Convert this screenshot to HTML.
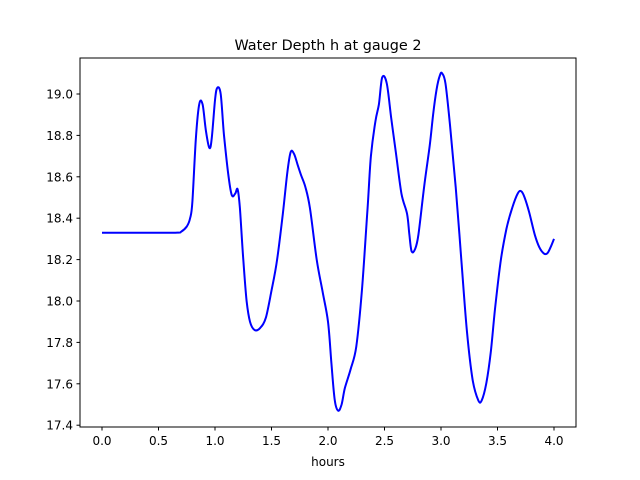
<!DOCTYPE html>
<html><head><meta charset="utf-8"><style>
body{margin:0;background:#fff;}
svg{display:block;font-family:"DejaVu Sans","Liberation Sans",sans-serif;}
</style></head><body>
<svg id="chart" width="640" height="480">
<rect x="0" y="0" width="640" height="480" fill="#fff"/>
<text x="328" y="50" text-anchor="middle" font-size="14.4">Water Depth h at gauge 2</text>
<g id="xt"></g>
<g id="yt"></g>
<path id="line" fill="none" stroke="#0000ff" stroke-width="2" stroke-linejoin="round"/>
<rect x="80" y="58" width="496" height="369" fill="none" stroke="#000" stroke-width="1"/>
<text x="328" y="466" text-anchor="middle" font-size="12">hours</text>
</svg>
<script>
const hours=[0,0.3,0.65,0.7,0.75,0.78,0.8,0.83,0.86,0.89,0.92,0.95,0.97,1.0,1.02,1.05,1.08,1.12,1.15,1.18,1.2,1.22,1.25,1.28,1.31,1.35,1.4,1.45,1.5,1.55,1.6,1.64,1.67,1.7,1.73,1.76,1.8,1.84,1.9,1.95,2.0,2.03,2.06,2.09,2.12,2.15,2.2,2.25,2.3,2.35,2.38,2.42,2.45,2.48,2.52,2.56,2.6,2.65,2.7,2.72,2.74,2.77,2.8,2.85,2.9,2.93,2.96,2.99,3.01,3.04,3.08,3.13,3.18,3.23,3.28,3.33,3.36,3.4,3.44,3.48,3.53,3.58,3.63,3.68,3.71,3.74,3.78,3.83,3.87,3.91,3.94,3.97,4.0];
const depth=[18.33,18.33,18.33,18.335,18.36,18.40,18.48,18.78,18.95,18.95,18.82,18.74,18.78,18.97,19.03,19.0,18.8,18.6,18.51,18.52,18.54,18.45,18.2,18.0,17.9,17.86,17.87,17.92,18.05,18.2,18.42,18.62,18.72,18.71,18.66,18.61,18.55,18.45,18.2,18.05,17.9,17.7,17.52,17.47,17.5,17.58,17.67,17.78,18.05,18.45,18.7,18.87,18.95,19.08,19.05,18.88,18.72,18.52,18.42,18.32,18.24,18.25,18.32,18.55,18.75,18.9,19.02,19.09,19.10,19.05,18.85,18.55,18.2,17.85,17.62,17.52,17.52,17.6,17.75,17.97,18.2,18.35,18.45,18.52,18.53,18.5,18.43,18.32,18.26,18.23,18.23,18.26,18.30];
const xTicks=[0,0.5,1,1.5,2,2.5,3,3.5,4];
const yTicks=[17.4,17.6,17.8,18.0,18.2,18.4,18.6,18.8,19.0];
const X=v=>102+v*113;
const Y=v=>94+(19-v)*207;
const NS="http://www.w3.org/2000/svg";
const xt=document.getElementById('xt'),yt=document.getElementById('yt');
xTicks.forEach(t=>{
  const l=document.createElementNS(NS,'line');
  l.setAttribute('x1',X(t));l.setAttribute('x2',X(t));l.setAttribute('y1',427);l.setAttribute('y2',430.5);l.setAttribute('stroke','#000');
  
  
  xt.appendChild(l);
  const s=document.createElementNS(NS,'text');
  s.setAttribute('x',X(t));s.setAttribute('y',445);s.setAttribute('text-anchor','middle');s.setAttribute('font-size','12');
  s.textContent=t.toFixed(1);
  
  
  xt.appendChild(s);
});
yTicks.forEach(t=>{
  const l=document.createElementNS(NS,'line');
  l.setAttribute('x1',76.5);l.setAttribute('x2',80);l.setAttribute('y1',Y(t));l.setAttribute('y2',Y(t));l.setAttribute('stroke','#000');
  
  
  yt.appendChild(l);
  const s=document.createElementNS(NS,'text');
  s.setAttribute('x',73);s.setAttribute('y',Y(t)+4.5);s.setAttribute('text-anchor','end');s.setAttribute('font-size','12');
  s.textContent=t.toFixed(1);
  
  
  yt.appendChild(s);
});
// smooth path (Catmull-Rom to Bezier)
const pts=hours.map((h,i)=>[X(h),Y(depth[i])]);
let d='M'+pts[0][0].toFixed(1)+','+pts[0][1].toFixed(1);
for(let i=0;i<pts.length-1;i++){
  const p0=pts[Math.max(0,i-1)],p1=pts[i],p2=pts[i+1],p3=pts[Math.min(pts.length-1,i+2)];
  const c1=[p1[0]+(p2[0]-p0[0])/6,p1[1]+(p2[1]-p0[1])/6];
  const c2=[p2[0]-(p3[0]-p1[0])/6,p2[1]-(p3[1]-p1[1])/6];
  d+='C'+c1[0].toFixed(1)+','+c1[1].toFixed(1)+' '+c2[0].toFixed(1)+','+c2[1].toFixed(1)+' '+p2[0].toFixed(1)+','+p2[1].toFixed(1);
}
document.getElementById('line').setAttribute('d',d);
</script>
</body></html>
